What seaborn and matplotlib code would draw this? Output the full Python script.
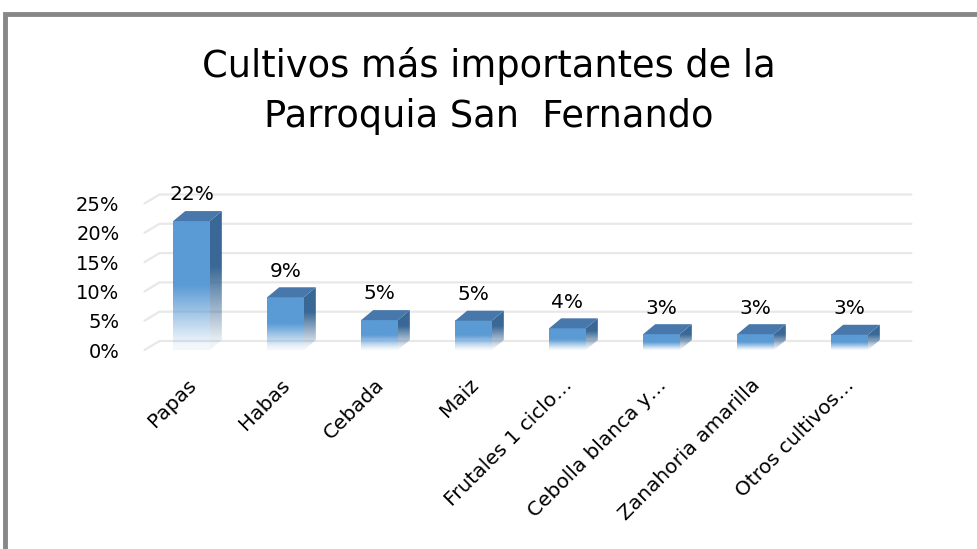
import matplotlib
matplotlib.use("Agg")
import numpy as np
import matplotlib.pyplot as plt
import matplotlib.transforms as mtransforms
import seaborn as sns
from matplotlib.patches import Polygon
from matplotlib.lines import Line2D
from matplotlib.colors import to_rgb

# ---------------------------------------------------------------- data
categories = ["Papas", "Habas", "Cebada", "Maiz", "Frutales 1 ciclo…",
              "Cebolla blanca y…", "Zanahoria amarilla", "Otros cultivos…"]
shares = [0.220, 0.090, 0.051, 0.050, 0.037, 0.027, 0.027, 0.026]
y_ticks = [0.0, 0.05, 0.10, 0.15, 0.20, 0.25]
y_tick_labels = ["0%", "5%", "10%", "15%", "20%", "25%"]
title = "Cultivos más importantes de la\nParroquia San  Fernando"

FRONT = "#5B9BD5"
SIDE = "#3A6896"
TOP = "#4878AB"
GRID = "#E8E8E8"

sns.set_theme(style="white")
plt.rcParams["font.family"] = ["DejaVu Sans"]

fig = plt.figure(figsize=(9.78, 5.49), dpi=100)
fig.patch.set_facecolor("white")
W, H = 978, 549

# plot area placed in pixel terms (0% floor at y=350, 25% at y=203.5)
ax = fig.add_axes([144.5 / W, (H - 350) / H, 752 / W, 146.5 / H])
ax.set_facecolor("none")

sns.barplot(x=categories, y=shares, ax=ax, width=0.39, color=FRONT,
            saturation=1, zorder=3)
ax.set_xlim(-0.5, 7.5)
ax.set_ylim(0, 0.25)
for s in ax.spines.values():
    s.set_visible(False)
ax.set_xlabel("")
ax.set_ylabel("")

ax.set_yticks(y_ticks)
ax.set_yticklabels(y_tick_labels, fontsize=14, color="black")
ax.tick_params(axis="y", length=0, pad=18)
ax.tick_params(axis="x", length=0, pad=16)
ax.set_xticks(range(len(categories)))
ax.set_xticklabels(categories, rotation=45, ha="right", rotation_mode="anchor",
                   fontsize=14.5, color="black")
nudge = mtransforms.ScaledTranslation(-5 / 100, -3 / 100, fig.dpi_scale_trans)
for lbl in ax.get_xticklabels():
    lbl.set_transform(lbl.get_transform() + nudge)

# depth offsets (pixels) for the 3-D look
DX, DY = 12, 10
GX, GY = 15, 9
to_disp = ax.transData.transform
to_data = ax.transData.inverted().transform


def shift(pt, dx, dy):
    d = to_disp(pt)
    return to_data((d[0] + dx, d[1] + dy))


# back-wall gridlines with the little slanted floor edge
for v in y_ticks:
    front_l = to_disp((-0.5, v))
    front_r = to_disp((7.5, v))
    xs = [front_l[0], front_l[0] + GX, front_r[0] + GX]
    ys = [front_l[1], front_l[1] + GY, front_r[1] + GY]
    ax.add_line(Line2D(xs, ys, transform=None, color=GRID, lw=1.6,
                       zorder=1, clip_on=False))


def fade_rgba(color, n=200, solid_from=0.5, floor=0.08):
    t = np.linspace(0, 1, n)[:, None]
    a = np.clip(t / solid_from, floor, 1.0)
    rgb = np.array(to_rgb(color))
    img = np.ones((n, 1, 4))
    img[..., :3] = rgb
    img[..., 3] = a
    return img


bars = ax.patches[:len(shares)]
for p in bars:
    x0, w, h = p.get_x(), p.get_width(), p.get_height()
    x1 = x0 + w
    p.set_alpha(0)
    # front face with the soft fade to the floor
    ax.imshow(fade_rgba(FRONT), extent=(x0, x1, 0, h), origin="lower",
              aspect="auto", zorder=3, interpolation="bilinear")
    # side face
    b1 = shift((x1, 0), DX, DY)
    t1 = shift((x1, h), DX, DY)
    side = Polygon([(x1, 0), (x1, h), t1, b1], closed=True,
                   facecolor="none", edgecolor="none")
    ax.add_patch(side)
    ims = ax.imshow(fade_rgba(SIDE, solid_from=0.6), extent=(x1, t1[0], 0, t1[1]),
                    origin="lower", aspect="auto", zorder=3,
                    interpolation="bilinear")
    ims.set_clip_path(side)
    # top face
    t0 = shift((x0, h), DX, DY)
    ax.add_patch(Polygon([(x0, h), (x1, h), t1, t0], closed=True,
                         facecolor=TOP, edgecolor="none", zorder=4))

ax.set_xlim(-0.5, 7.5)
ax.set_ylim(0, 0.25)

# value labels above each column
for i, v in enumerate(shares):
    ax.annotate(f"{round(v * 100):.0f}%", (i, v), xytext=(0, 12),
                textcoords="offset points", ha="center", va="bottom",
                fontsize=14.5, color="black", annotation_clip=False)

fig.text(0.5, 1 - 47 / H, title, ha="center", va="top", fontsize=26.5,
         linespacing=1.45, color="black")

# chart-area frame (left and top edges visible in the crop)
fig.add_artist(Line2D([5, 5, W + 5], [-5, H - 14, H - 14], transform=None,
                      color="#878787", lw=3.5, solid_joinstyle="miter"))

fig.savefig("out.png", dpi=100, facecolor="white")
